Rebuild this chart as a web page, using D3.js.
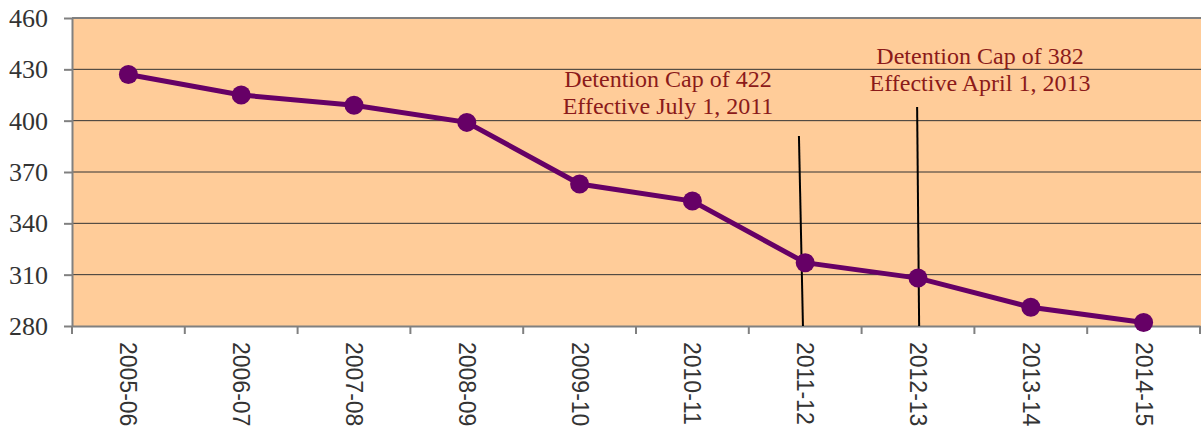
<!DOCTYPE html>
<meta charset="utf-8">
<style>
body { margin: 0; background: #fff; }
text { font-family: 'Liberation Serif', 'Times New Roman', serif; }
.grid line { stroke: #333; stroke-width: 1; }
.axis path, .axis line { stroke: #808080; stroke-width: 2; }
.axis text { fill: #333; }
.note { fill: #8b1a1a; font-size: 24px; }
</style>
<svg width="1201" height="435"></svg>
<script src="https://d3js.org/d3.v7.min.js"></script>
<script>
var years = ["2005-06", "2006-07", "2007-08", "2008-09", "2009-10",
	"2010-11", "2011-12", "2012-13", "2013-14", "2014-15"];
var counts = [427, 415, 409, 399, 363, 353, 317, 308, 291, 282];
var yTicks = [280, 310, 340, 370, 400, 430, 460];

// cap annotations: marker position in category units, marker top value, label lines
var caps = [
	{ lines: ["Detention Cap of 422", "Effective July 1, 2011"], at: 6.48, lean: -4, topVal: 391, tx: 668, ty: 87 },
	{ lines: ["Detention Cap of 382", "Effective April 1, 2013"], at: 7.51, lean: -2, topVal: 408, tx: 980, ty: 64 }
];

var svg = d3.select("svg");
var mLeft = 72, mRight = 1200, mTop = 18, mBottom = 326;

var x = d3.scaleBand().domain(years).range([mLeft, mRight]);
var y = d3.scaleLinear().domain([280, 460]).range([mBottom, mTop]);
var xi = d3.scaleLinear().domain([0, years.length]).range([mLeft, mRight]);

svg.append("rect")
	.attr("x", mLeft).attr("y", mTop)
	.attr("width", mRight - mLeft + 2).attr("height", mBottom - mTop)
	.attr("fill", "#ffcc99");

svg.append("g")
	.attr("class", "grid")
	.selectAll("line")
	.data(yTicks.slice(1, -1))
	.enter().append("line")
	.attr("x1", mLeft).attr("x2", 1201)
	.attr("y1", function(d) { return y(d); })
	.attr("y2", function(d) { return y(d); });

// top border
svg.append("line")
	.attr("x1", mLeft).attr("x2", 1201)
	.attr("y1", mTop).attr("y2", mTop)
	.attr("stroke", "#808080").attr("stroke-width", 2);

var yAxis = svg.append("g")
	.attr("class", "axis")
	.attr("transform", "translate(" + mLeft + ",0)")
	.call(d3.axisLeft(y).tickValues(yTicks).tickSize(8).tickPadding(16).tickSizeOuter(0));
yAxis.selectAll("text").style("font-size", "26px").attr("dy", "0.33em");

var xAxis = svg.append("g")
	.attr("class", "axis")
	.attr("transform", "translate(0," + mBottom + ")")
	.call(d3.axisBottom(x).tickSize(0).tickSizeOuter(0));
xAxis.selectAll("text")
	.style("font-family", "'Liberation Sans', Arial, sans-serif")
	.style("font-size", "23px")
	.attr("text-anchor", "start")
	.attr("transform", "rotate(90)")
	.attr("x", 16)
	.attr("y", 0)
	.attr("dy", "0.35em");

// ticks between categories
xAxis.selectAll(".sep")
	.data(d3.range(years.length + 1))
	.enter().append("line")
	.attr("class", "sep")
	.attr("x1", function(i) { return xi(i); })
	.attr("x2", function(i) { return xi(i); })
	.attr("y1", 0).attr("y2", 8);

// cap markers
svg.selectAll(".capline")
	.data(caps)
	.enter().append("line")
	.attr("class", "capline")
	.attr("x1", function(d) { return xi(d.at) + d.lean; })
	.attr("x2", function(d) { return xi(d.at); })
	.attr("y1", function(d) { return y(d.topVal); })
	.attr("y2", mBottom)
	.attr("stroke", "#000").attr("stroke-width", 2);

var line = d3.line()
	.x(function(d, i) { return x(years[i]) + x.bandwidth() / 2; })
	.y(function(d) { return y(d); });

svg.append("path")
	.datum(counts)
	.attr("d", line)
	.attr("fill", "none")
	.attr("stroke", "#660066")
	.attr("stroke-width", 5);

svg.selectAll(".dot")
	.data(counts)
	.enter().append("circle")
	.attr("class", "dot")
	.attr("cx", function(d, i) { return x(years[i]) + x.bandwidth() / 2; })
	.attr("cy", function(d) { return y(d); })
	.attr("r", 9.5)
	.attr("fill", "#660066");

caps.forEach(function(c) {
	svg.append("text")
		.attr("class", "note")
		.attr("text-anchor", "middle")
		.attr("x", c.tx)
		.attr("y", c.ty)
		.selectAll("tspan")
		.data(c.lines)
		.enter().append("tspan")
		.attr("x", c.tx)
		.attr("dy", function(d, i) { return i ? 27 : 0; })
		.text(function(d) { return d; });
});
</script>
